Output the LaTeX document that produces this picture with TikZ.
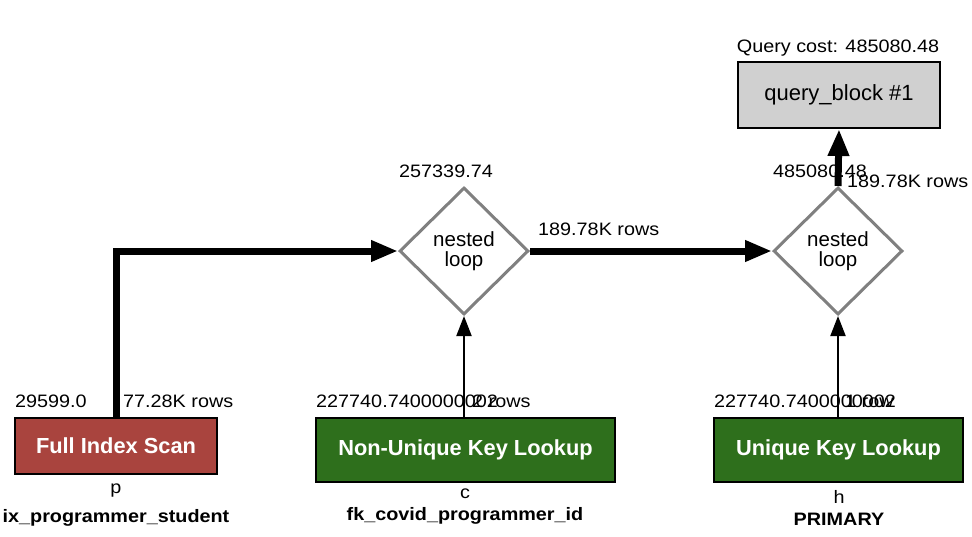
\documentclass[tikz,border=0pt]{standalone}
\usepackage{fontspec}
\setmainfont{Liberation Sans}
\newfontfamily\widefont[FakeStretch=1.1]{Liberation Sans}
\usetikzlibrary{shapes.geometric,arrows.meta}
\definecolor{fisred}{RGB}{169,68,62}
\definecolor{lookgreen}{RGB}{46,111,28}
\definecolor{qbgray}{RGB}{208,208,208}
\definecolor{diagray}{RGB}{128,128,128}
\tikzset{
  lbl/.style={font=\widefont\fontsize{18}{20}\selectfont, inner sep=0pt},
  blbl/.style={font=\widefont\bfseries\fontsize{18}{20}\selectfont, inner sep=0pt},
  opbox/.style={draw=black, line width=2pt, inner sep=0pt, text=white,
    font=\bfseries\fontsize{21.8}{24}\selectfont},
  loopnode/.style={shape=diamond, draw=diagray, line width=3pt, inner sep=0pt,
    minimum width=129pt, minimum height=127pt, align=center,
    font=\fontsize{20.5}{20}\selectfont},
  bigarrow/.style={line width=7pt, -{Triangle[length=27pt,width=20pt]}},
  thinarrow/.style={line width=2pt, -{Triangle[length=20pt,width=15pt]}},
}
\begin{document}
\begin{tikzpicture}[x=1pt,y=-1pt]
\useasboundingbox (0,0) rectangle (972,536);
% query block
\node[draw=black, line width=2pt, fill=qbgray, minimum width=202pt, minimum height=66pt,
  inner sep=0pt, font=\fontsize{22}{24}\selectfont] (qb) at (839,95) {query\_block \#1};
\node[lbl, anchor=base] (qcost) at (838,52) {Query cost: 485080.48};
% nested loops
\node[loopnode] (nl1) at (464,251) {nested\\loop};
\node[loopnode] (nl2) at (838,251) {nested\\loop};
\node[lbl, anchor=base] (c1) at (446,177) {257339.74};
\node[lbl, anchor=base] (c2) at (820,177) {485080.48};
\node[lbl, anchor=base west] (r2) at (847,187) {189.78K rows};
\node[lbl, anchor=base west] (r1) at (538,235) {189.78K rows};
% operation boxes
\node[opbox, fill=fisred, minimum width=202pt, minimum height=56pt] (fis) at (116,446) {Full Index Scan};
\node[opbox, fill=lookgreen, minimum width=299pt, minimum height=64pt] (nuk) at (465.5,450) {Non-Unique Key Lookup};
\node[opbox, fill=lookgreen, minimum width=249pt, minimum height=64pt] (uk) at (838.5,450) {Unique Key Lookup};
% labels above boxes
\node[lbl, anchor=base west] (fiscost) at (15,407) {29599.0};
\node[lbl, anchor=base west] (fisrows) at (123,407) {77.28K rows};
\node[lbl, anchor=base west] (nukcost) at (316,407) {227740.7400000002};
\node[lbl, anchor=base west] (nukrows) at (472,407) {2 rows};
\node[lbl, anchor=base west] (ukcost) at (714,407) {227740.7400000002};
\node[lbl, anchor=base west] (ukrows) at (845,407) {1 row};
% labels below boxes
\node[lbl, anchor=base] (fisalias) at (116,493) {p};
\node[blbl, anchor=base] (fiskey) at (116,522) {ix\_programmer\_student};
\node[lbl, anchor=base] (nukalias) at (465,498) {c};
\node[blbl, anchor=base] (nukkey) at (465,520) {fk\_covid\_programmer\_id};
\node[lbl, anchor=base] (ukalias) at (839,503) {h};
\node[blbl, anchor=base] (ukkey) at (839,525) {PRIMARY};
% connectors
\draw[bigarrow] (fis.north) |- (nl1.west);
\draw[bigarrow] (nl1.east) -- (nl2.west);
\draw[bigarrow] (nl2.north) -- (qb.south);
\draw[thinarrow] (nl1.south |- nuk.north) -- (nl1.south);
\draw[thinarrow] (nl2.south |- uk.north) -- (nl2.south);
\end{tikzpicture}
\end{document}
